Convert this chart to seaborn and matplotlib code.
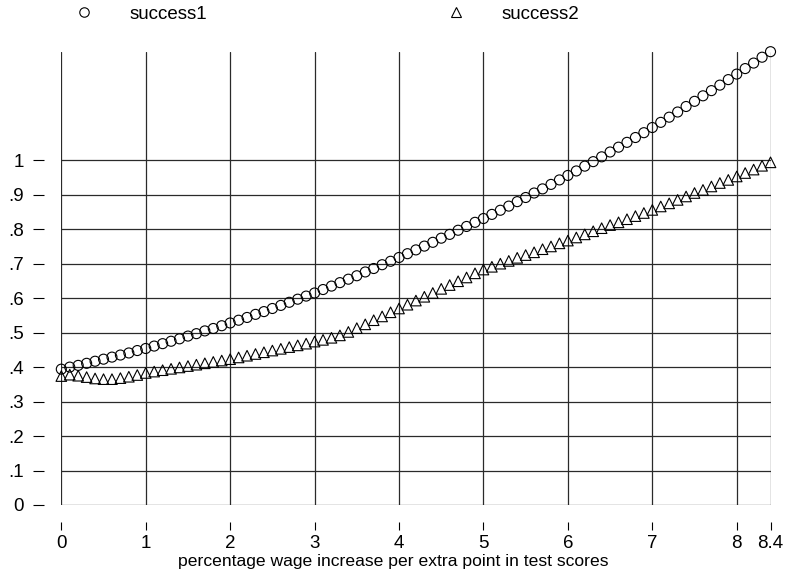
import numpy as np
import pandas as pd
import matplotlib
matplotlib.use("Agg")
import matplotlib.pyplot as plt
import seaborn as sns
from matplotlib.lines import Line2D

# x grid: 0 to 8.4 in steps of .1
wage_increase = np.round(np.linspace(0, 8.4, 85), 1)

success1 = [0.394, 0.400, 0.405, 0.411, 0.417, 0.423, 0.429, 0.435, 0.441, 0.448,
            0.454, 0.461, 0.468, 0.475, 0.482, 0.490, 0.497, 0.505, 0.512, 0.520,
            0.528, 0.536, 0.544, 0.553, 0.561, 0.570, 0.579, 0.588, 0.597, 0.606,
            0.615, 0.625, 0.635, 0.645, 0.655, 0.665, 0.676, 0.686, 0.697, 0.707,
            0.718, 0.729, 0.740, 0.751, 0.762, 0.774, 0.785, 0.797, 0.808, 0.820,
            0.831, 0.843, 0.855, 0.867, 0.880, 0.892, 0.905, 0.917, 0.930, 0.943,
            0.956, 0.969, 0.983, 0.996, 1.010, 1.024, 1.038, 1.052, 1.066, 1.080,
            1.095, 1.110, 1.125, 1.140, 1.156, 1.171, 1.187, 1.202, 1.218, 1.234,
            1.250, 1.266, 1.282, 1.299, 1.315]

success2 = [0.374, 0.378, 0.375, 0.371, 0.367, 0.365, 0.365, 0.368, 0.372, 0.377,
            0.383, 0.387, 0.391, 0.395, 0.399, 0.403, 0.407, 0.411, 0.415, 0.419,
            0.423, 0.428, 0.433, 0.438, 0.443, 0.448, 0.453, 0.458, 0.463, 0.468,
            0.474, 0.479, 0.485, 0.492, 0.502, 0.513, 0.524, 0.536, 0.547, 0.559,
            0.570, 0.581, 0.593, 0.604, 0.615, 0.627, 0.638, 0.649, 0.660, 0.672,
            0.683, 0.691, 0.700, 0.708, 0.717, 0.725, 0.733, 0.742, 0.750, 0.759,
            0.767, 0.776, 0.785, 0.794, 0.803, 0.812, 0.820, 0.829, 0.838, 0.847,
            0.856, 0.866, 0.875, 0.885, 0.895, 0.905, 0.914, 0.924, 0.934, 0.943,
            0.953, 0.963, 0.973, 0.984, 0.994]

x_ticks = [0, 1, 2, 3, 4, 5, 6, 7, 8, 8.4]
x_ticklabels = ["0", "1", "2", "3", "4", "5", "6", "7", "8", "8.4"]
y_ticks = [0, .1, .2, .3, .4, .5, .6, .7, .8, .9, 1]
y_ticklabels = ["0", ".1", ".2", ".3", ".4", ".5", ".6", ".7", ".8", ".9", "1"]

sns.set_style("white")
plt.rcParams["font.family"] = ["Liberation Sans", "DejaVu Sans"]
plt.rcParams["text.color"] = "black"
plt.rcParams["xtick.color"] = "black"
plt.rcParams["ytick.color"] = "black"
plt.rcParams["axes.labelcolor"] = "black"

fig = plt.figure(figsize=(7.86, 5.73), dpi=100)
ax = fig.add_axes([0.078, 0.1187, 0.9803 - 0.078, 0.9098 - 0.1187])

sns.scatterplot(x=wage_increase, y=success1, marker="o", s=52, facecolors="none",
                edgecolor="black", linewidth=0.8, ax=ax, clip_on=False, zorder=3)
sns.scatterplot(x=wage_increase, y=success2, marker="^", s=58, facecolors="none",
                edgecolor="black", linewidth=0.8, ax=ax, clip_on=False, zorder=3)

ax.set_xlim(0, 8.4)
ax.set_ylim(0, max(success1))
ax.set_xticks(x_ticks)
ax.set_xticklabels(x_ticklabels)
ax.set_yticks(y_ticks)
ax.set_yticklabels(y_ticklabels)

ax.grid(True, color="#2a2a2a", linewidth=0.9)
ax.set_axisbelow(True)
for gl in ax.get_xgridlines() + ax.get_ygridlines():
    gl.set_clip_on(False)

for side in ["top", "right", "left", "bottom"]:
    ax.spines[side].set_visible(False)
ax.spines["left"].set_position(("outward", 12.5))
ax.spines["bottom"].set_position(("outward", 12))

ax.tick_params(axis="y", direction="out", length=7.7, width=0.8, color="black",
               pad=6.5, labelsize=13.5, left=True)
ax.tick_params(axis="x", direction="out", length=6, width=0.8, color="black",
               pad=3.5, labelsize=13.5, bottom=True)

ax.set_xlabel("percentage wage increase per extra point in test scores",
              fontsize=12.6)
ax.xaxis.set_label_coords(0.4677, -0.108)
ax.set_ylabel("")

# legend at the top, two entries spread apart
h1 = Line2D([], [], marker="o", linestyle="none", markerfacecolor="none",
            markeredgecolor="black", markersize=6.8, markeredgewidth=0.8)
h2 = Line2D([], [], marker="^", linestyle="none", markerfacecolor="none",
            markeredgecolor="black", markersize=6.8, markeredgewidth=0.8)
fig.legend(handles=[h1], labels=["success1"], loc="center left",
           bbox_to_anchor=(0.0827, 0.9756), frameon=False, borderpad=0,
           borderaxespad=0, handlelength=2, handletextpad=1.45, fontsize=13.5)
fig.legend(handles=[h2], labels=["success2"], loc="center left",
           bbox_to_anchor=(0.556, 0.9756), frameon=False, borderpad=0,
           borderaxespad=0, handlelength=2, handletextpad=1.45, fontsize=13.5)

fig.savefig("out.png", dpi=100)
